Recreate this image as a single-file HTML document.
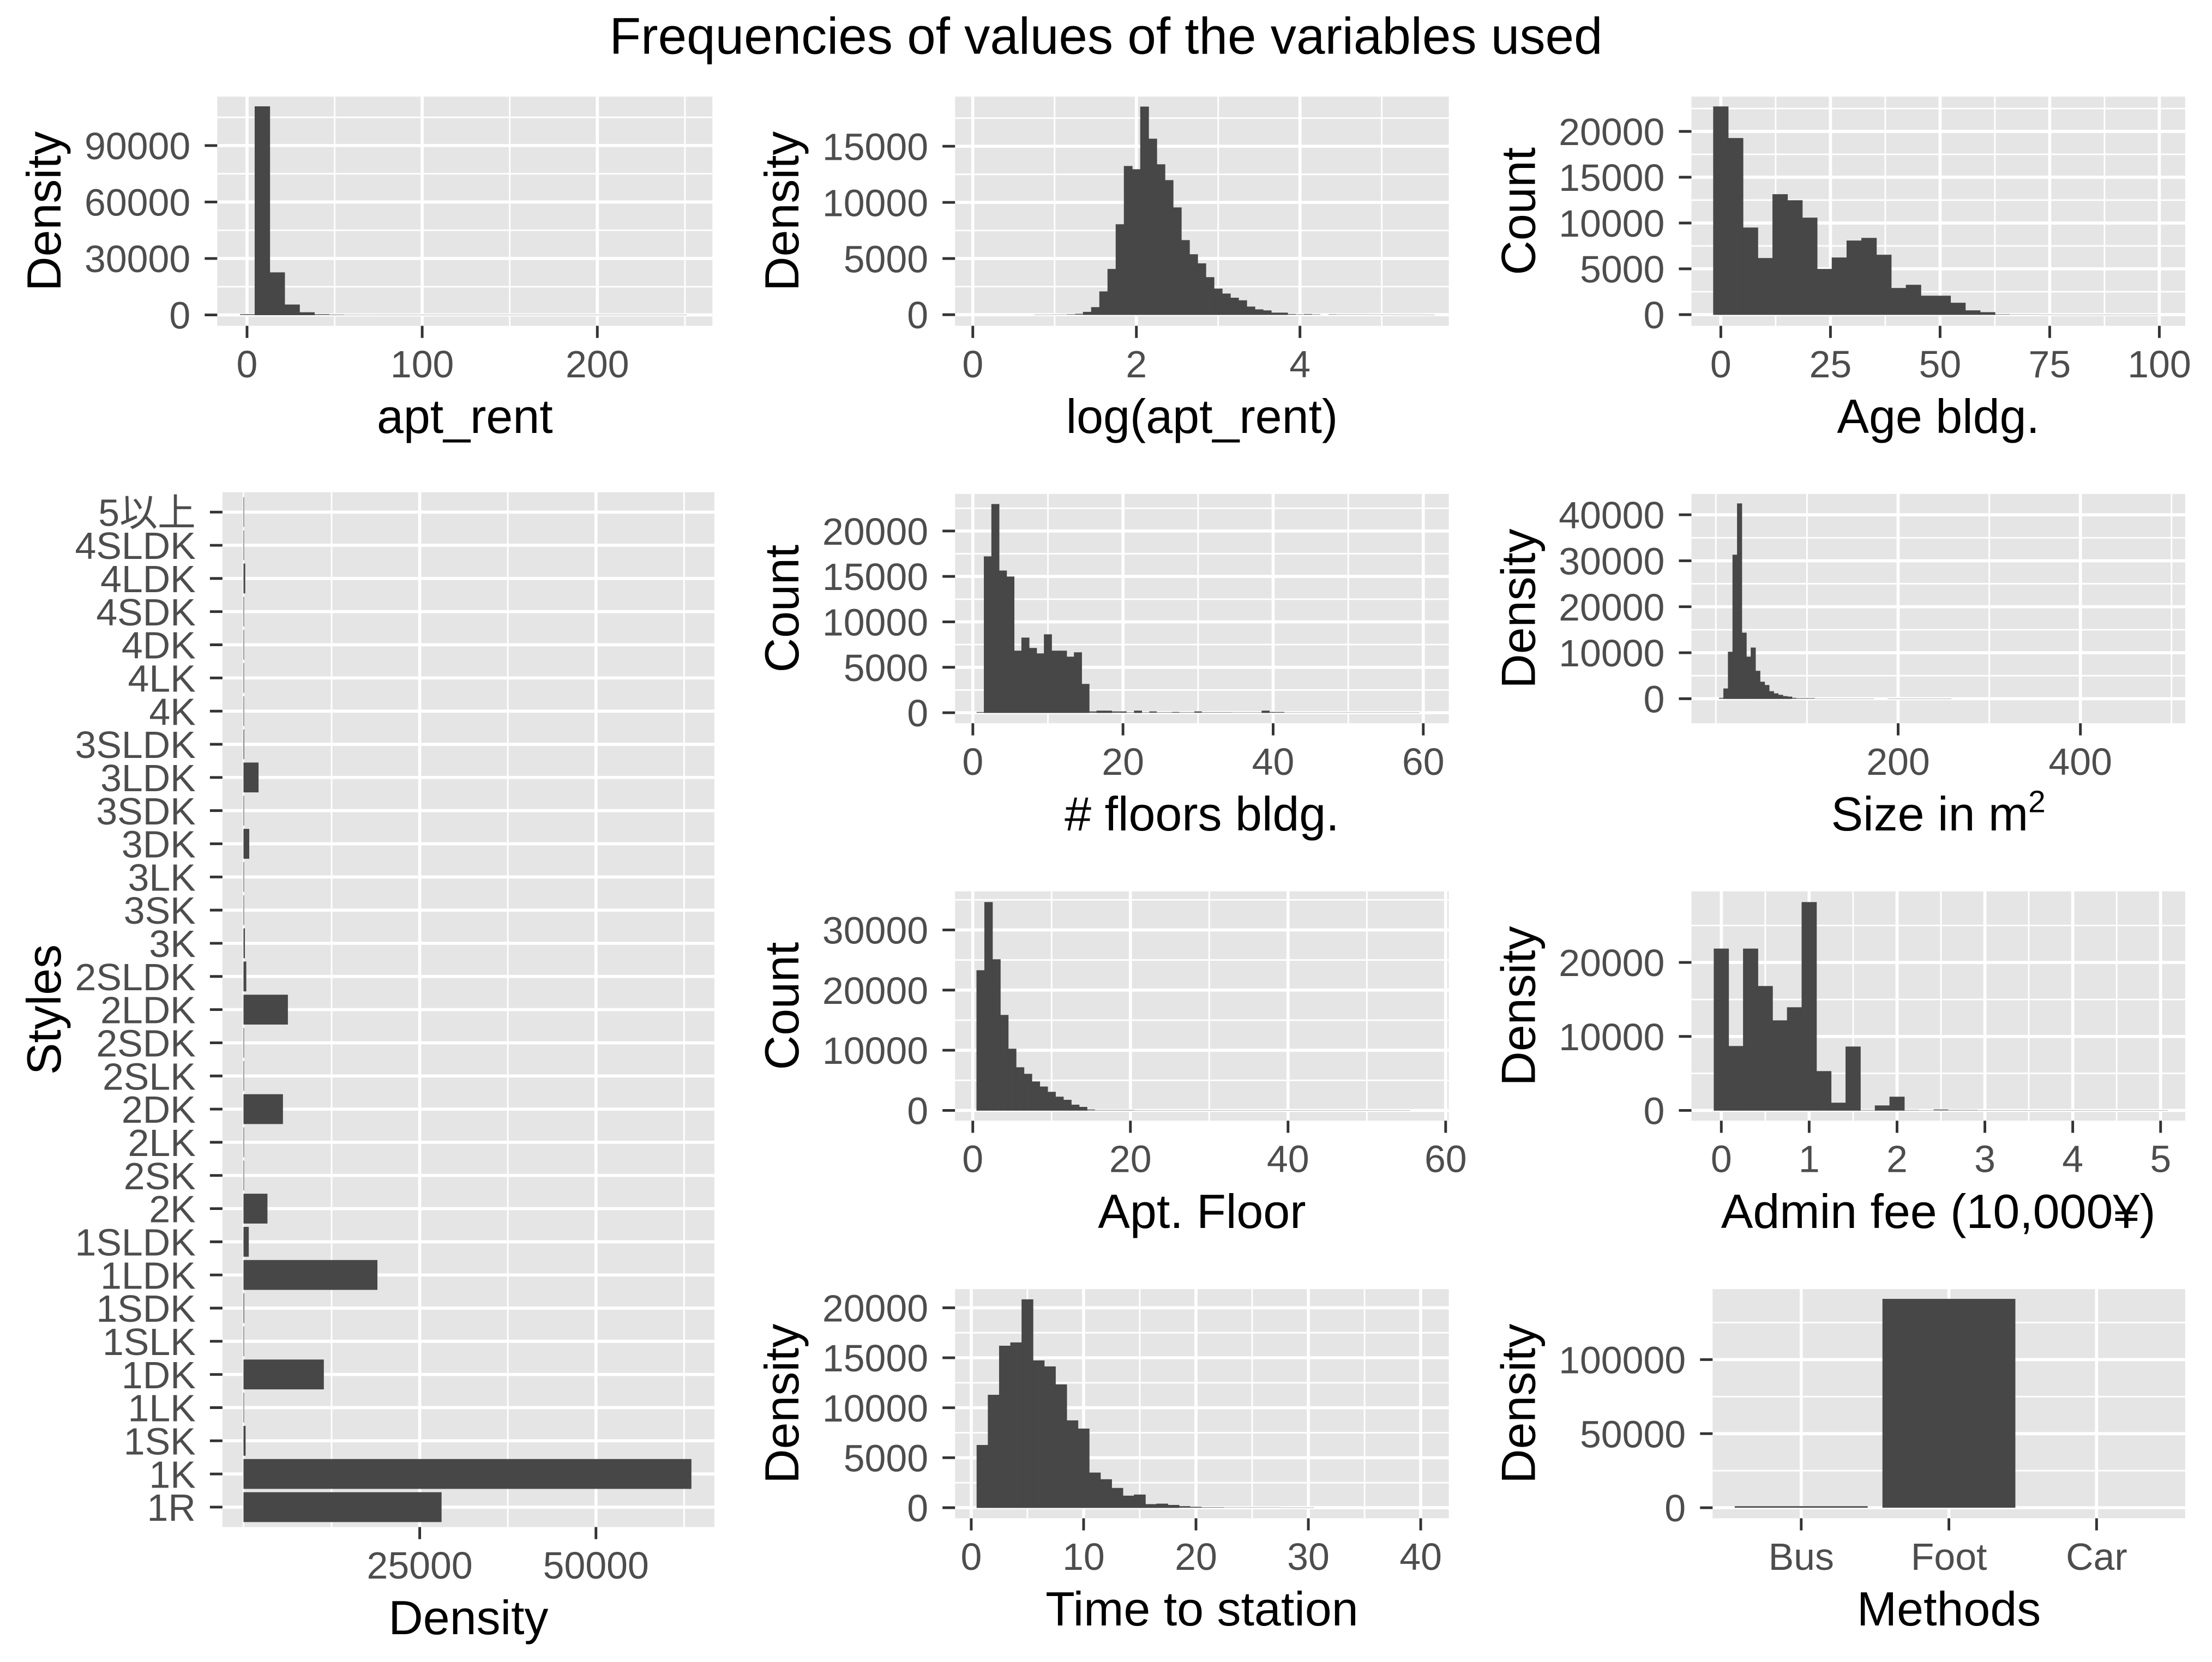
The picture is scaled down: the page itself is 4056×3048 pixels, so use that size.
<!DOCTYPE html>
<html><head><meta charset="utf-8"><title>Frequencies of values of the variables used</title>
<style>
html,body{margin:0;padding:0;background:#fff;}
svg{display:block;}
text{font-family:"Liberation Sans","Noto Sans CJK JP",sans-serif;}
</style></head>
<body>
<svg id="fig" xmlns="http://www.w3.org/2000/svg" width="4056" height="3048" viewBox="0 0 1568 1178.4" preserveAspectRatio="none">
<rect x="0" y="0" width="1568" height="1178.4" fill="#ffffff"/>
<text x="784" y="38" font-size="36.5" text-anchor="middle" fill="#000">Frequencies of values of the variables used</text>
</svg>
<script>
// ---- data ----
const rentStart = -4, rentWidth = 8.5;
const rentCounts = [400,110700,22500,5400,1300,400,200,120,80,50,40,30,20,15,10,10,8,6,5,5,4,3,3,2,2,2,1,1,1,1];
const logStart = 0.75, logWidth = 0.1;
const logCounts = [10,10,15,20,40,80,230,650,2050,4050,8030,13220,12930,18510,15650,13370,11960,9530,6620,5360,4550,3320,2300,1860,1490,1260,700,450,360,160,160,60,30,60,30,0,30,20,20,20,20,15,15,15,10,10,10,10,5];
const ageStart = -1.69, ageWidth = 3.38;
const ageCounts = [22700,19250,9480,6150,13120,12460,10560,4960,6210,8060,8350,6510,2880,3230,2040,2040,1270,440,240,40,20,20,10,5,5,5,5,5,5,5];
const floorsStart = 0.5, floorsWidth = 1;
const floorsCounts = [80,17180,22940,15620,14960,6800,8240,7100,6500,8600,6800,6800,6140,6620,3140,140,200,200,140,140,40,200,40,140,40,40,80,40,40,140,40,40,40,40,30,30,30,30,200,80,80,20,20,20,20,20,20,20,20,20,20,20,20,20,20,20,20,20,20];
const sizeStart = 3.5, sizeWidth = 5;
const sizeCounts = [200,2170,10160,31270,42420,14310,9090,11070,6010,3640,2920,1580,1110,790,510,400,200,120,120,120,120,40,40,40,40,40,40,40,40,40,40,40,40,40,0,0,0,40,20,20,20,10,10,10,10,10,10,5,5,5,5];
const aptFloorStart = 0.5, aptFloorWidth = 1;
const aptFloorCounts = [23260,34590,25080,15830,10210,7130,6040,4770,3930,3050,2240,1720,910,540,150,60,60,60,60,60,30,30,30,30,30,30,30,30,30,30,10,10,10,10,10,10,10,10,10,10,10,10,10,10,10,10,10,10,5,5,5,5,5,5,5];
const adminStart = -0.08333, adminWidth = 0.16667;
const adminCounts = [21840,8670,21840,16780,12140,13910,28130,5280,1010,8600,50,640,1820,50,10,120,50,50,10,10,10,10,5,5,5,5,5,5,5,5,5];
const timeStart = 0.5, timeWidth = 1;
const timeCounts = [6250,11270,16180,16510,20820,14710,14110,12310,8710,7890,3490,2820,1950,1180,1290,330,380,250,150,90,40,40,20,20,20,20,20,10,10,10];
const styleCategories = ["1R","1K","1SK","1LK","1DK","1SLK","1SDK","1LDK","1SLDK","2K","2SK","2LK","2DK","2SLK","2SDK","2LDK","2SLDK","3K","3SK","3LK","3DK","3SDK","3LDK","3SLDK","4K","4LK","4DK","4SDK","4LDK","4SLDK","5以上"];
const styleValues = [28100,63540,300,30,11400,20,100,19000,750,3400,20,20,5600,10,80,6300,400,200,10,10,820,20,2140,100,30,20,50,10,250,50,80];
const methodCategories = ["Bus","Foot","Car"];
const methodValues = [1000,141000,0];

// ---- helpers ----
const NS = "http://www.w3.org/2000/svg";
const svg = document.getElementById("fig");
const BG = "#e5e5e5", BAR = "#474747";
function make(tag, parent){ const e = document.createElementNS(NS, tag); parent.appendChild(e); return e; }
function attr(e, o){ for (const k in o) e.setAttribute(k, o[k]); return e; }
function scale(d0, d1, r0, r1){ return v => r0 + (v - d0) * (r1 - r0) / (d1 - d0); }

function panel(p){
  const g = make("g", svg);
  
  
  const sx = scale(p.xlim[0], p.xlim[1], p.x0, p.x1);
  const sy = scale(p.ylim[0], p.ylim[1], p.y1, p.y0);
  p.sx = sx; p.sy = sy; p.g = g;
  const bg = make("rect", g);
  attr(bg, {x:p.x0, y:p.y0, width:p.x1-p.x0, height:p.y1-p.y0, fill:BG});
  
  
  (p.xMinor||[]).forEach(v => {
    const l = make("line", g);
    attr(l, {x1:sx(v), x2:sx(v), y1:p.y0, y2:p.y1, stroke:"#fff", "stroke-width":1.1});
    
    
  });
  (p.yMinor||[]).forEach(v => {
    const l = make("line", g);
    attr(l, {x1:p.x0, x2:p.x1, y1:sy(v), y2:sy(v), stroke:"#fff", "stroke-width":1.1});
    
    
  });
  p.xMajor.forEach(v => {
    const l = make("line", g);
    attr(l, {x1:sx(v), x2:sx(v), y1:p.y0, y2:p.y1, stroke:"#fff", "stroke-width":2.2});
    
    
  });
  p.yMajor.forEach(v => {
    const l = make("line", g);
    attr(l, {x1:p.x0, x2:p.x1, y1:sy(v), y2:sy(v), stroke:"#fff", "stroke-width":2.2});
    
    
  });
  return p;
}

function axes(p){
  const g = p.g, sx = p.sx, sy = p.sy;
  p.xMajor.forEach((v, i) => {
    const t = make("line", g);
    attr(t, {x1:sx(v), x2:sx(v), y1:p.y1, y2:p.y1+8.6, stroke:"#333", "stroke-width":1.9});
    
    
    const lb = make("text", g);
    attr(lb, {x:sx(v), y:p.y1+36.5, "font-size":27, fill:"#4d4d4d", "text-anchor":"middle"});
    lb.textContent = p.xLabels[i];
    
    
  });
  p.yMajor.forEach((v, i) => {
    const t = make("line", g);
    attr(t, {x1:p.x0-8.9, x2:p.x0, y1:sy(v), y2:sy(v), stroke:"#333", "stroke-width":1.9});
    
    
    const lb = make("text", g);
    attr(lb, {x:p.x0-19, y:sy(v)+(p.yFont||27)*0.36, "font-size":p.yFont||27, fill:"#4d4d4d", "text-anchor":"end"});
    lb.textContent = p.yLabels[i];
    
    
  });
  const xt = make("text", g);
  attr(xt, {x:(p.x0+p.x1)/2, y:p.y1+76, "font-size":34, fill:"#000", "text-anchor":"middle"});
  if (p.xTitleSup) {
    xt.textContent = p.xTitle;
    const sp = make("tspan", xt);
    attr(sp, {"font-size":22, dy:-13});
    sp.textContent = p.xTitleSup;
  } else {
    xt.textContent = p.xTitle;
  }
  
  
  const yc = (p.y0+p.y1)/2;
  const yt = make("text", g);
  attr(yt, {x:p.yTitleX, y:yc, "font-size":34, fill:"#000", "text-anchor":"middle", transform:`rotate(-90 ${p.yTitleX} ${yc})`});
  yt.textContent = p.yTitle;
  
  
}

function hist(p, start, width, counts){
  const sx = p.sx, sy = p.sy;
  counts.forEach((c, i) => {
    if (c <= 0) return;
    const a = start + i*width, b = a + width;
    const h = sy(0)-sy(c);
    const r = make("rect", p.g);
    attr(r, {x:sx(a), y:sy(c), width:Math.max(sx(b)-sx(a),0.1), height:Math.max(h,0.15), fill:BAR});
    if (h > 1.2) { r.setAttribute('stroke', BAR); r.setAttribute('stroke-width', 0.35); }
    
    
  });
}

function range(a, b, s){ const o=[]; for(let v=a; v<=b+1e-9; v+=s) o.push(+v.toFixed(6)); return o; }

// ---- row 1 ----
const A = panel({name:"apt-rent", x0:154, x1:505, y0:68.5, y1:231, xlim:[-17,265.7], ylim:[-5770,116000],
  xMajor:[0,100,200], xMinor:[50,150,250], yMajor:[0,30000,60000,90000], yMinor:[15000,45000,75000,105000],
  xLabels:["0","100","200"], yLabels:["0","30000","60000","90000"], xTitle:"apt_rent", yTitle:"Density", yTitleX:43});
hist(A, rentStart, rentWidth, rentCounts); axes(A);

const B = panel({name:"log-apt-rent", x0:677, x1:1027, y0:68.5, y1:231, xlim:[-0.217,5.82], ylim:[-990,19420],
  xMajor:[0,2,4], xMinor:[1,3,5], yMajor:[0,5000,10000,15000], yMinor:[2500,7500,12500,17500],
  xLabels:["0","2","4"], yLabels:["0","5000","10000","15000"], xTitle:"log(apt_rent)", yTitle:"Density", yTitleX:566});
hist(B, logStart, logWidth, logCounts); axes(B);

const C = panel({name:"age-bldg", x0:1199, x1:1549, y0:68.5, y1:231, xlim:[-6.7,105.9], ylim:[-1220,23800],
  xMajor:[0,25,50,75,100], xMinor:[12.5,37.5,62.5,87.5], yMajor:[0,5000,10000,15000,20000], yMinor:[2500,7500,12500,17500,22500],
  xLabels:["0","25","50","75","100"], yLabels:["0","5000","10000","15000","20000"], xTitle:"Age bldg.", yTitle:"Count", yTitleX:1088});
hist(C, ageStart, ageWidth, ageCounts); axes(C);

// ---- styles ----
const S = panel({name:"styles", x0:157.7, x1:506.4, y0:349, y1:1082.7, xlim:[-2980,66800], ylim:[0.4,31.6],
  xMajor:[25000,50000], xMinor:[0,12500,37500,62500], yMajor:range(1,31,1), yMinor:[],
  xLabels:["25000","50000"], yLabels:styleCategories, yFont:27, xTitle:"Density", yTitle:"Styles", yTitleX:43});
styleValues.forEach((v, i) => {
  const r = make("rect", S.g);
  attr(r, {x:S.sx(0), y:S.sy(i+1+0.45), width:Math.max(S.sx(v)-S.sx(0),0.4), height:S.sy(i+1-0.45)-S.sy(i+1+0.45), fill:BAR});
  
  
});
axes(S);

// ---- row 2 ----
const D = panel({name:"floors-bldg", x0:677, x1:1027, y0:350.2, y1:512.8, xlim:[-2.37,63.4], ylim:[-1160,24080],
  xMajor:[0,20,40,60], xMinor:[10,30,50], yMajor:[0,5000,10000,15000,20000], yMinor:[2500,7500,12500,17500,22500],
  xLabels:["0","20","40","60"], yLabels:["0","5000","10000","15000","20000"], xTitle:"# floors bldg.", yTitle:"Count", yTitleX:566});
hist(D, floorsStart, floorsWidth, floorsCounts); axes(D);

const E = panel({name:"size-m2", x0:1199, x1:1549, y0:350.2, y1:512.8, xlim:[-26.8,515], ylim:[-5340,44540],
  xMajor:[200,400], xMinor:[0,100,300,500], yMajor:[0,10000,20000,30000,40000], yMinor:[5000,15000,25000,35000],
  xLabels:["200","400"], yLabels:["0","10000","20000","30000","40000"], xTitle:"Size in m", xTitleSup:"2", yTitle:"Density", yTitleX:1088});
hist(E, sizeStart, sizeWidth, sizeCounts); axes(E);

// ---- row 3 ----
const F = panel({name:"apt-floor", x0:677, x1:1027, y0:632, y1:794.6, xlim:[-2.25,60.4], ylim:[-1710,36410],
  xMajor:[0,20,40,60], xMinor:[10,30,50], yMajor:[0,10000,20000,30000], yMinor:[5000,15000,25000,35000],
  xLabels:["0","20","40","60"], yLabels:["0","10000","20000","30000"], xTitle:"Apt. Floor", yTitle:"Count", yTitleX:566});
hist(F, aptFloorStart, aptFloorWidth, aptFloorCounts); axes(F);

const G = panel({name:"admin-fee", x0:1199, x1:1549, y0:632, y1:794.6, xlim:[-0.34,5.28], ylim:[-1390,29610],
  xMajor:[0,1,2,3,4,5], xMinor:[0.5,1.5,2.5,3.5,4.5], yMajor:[0,10000,20000], yMinor:[5000,15000,25000],
  xLabels:["0","1","2","3","4","5"], yLabels:["0","10000","20000"], xTitle:"Admin fee (10,000¥)", yTitle:"Density", yTitleX:1088});
hist(G, adminStart, adminWidth, adminCounts); axes(G);

// ---- row 4 ----
const H = panel({name:"time-to-station", x0:677, x1:1027, y0:914, y1:1076.5, xlim:[-1.44,42.5], ylim:[-1060,21870],
  xMajor:[0,10,20,30,40], xMinor:[5,15,25,35], yMajor:[0,5000,10000,15000,20000], yMinor:[2500,7500,12500,17500],
  xLabels:["0","10","20","30","40"], yLabels:["0","5000","10000","15000","20000"], xTitle:"Time to station", yTitle:"Density", yTitleX:566});
hist(H, timeStart, timeWidth, timeCounts); axes(H);

const I = panel({name:"methods", x0:1214, x1:1549, y0:914, y1:1076.5, xlim:[0.4,3.6], ylim:[-7140,147600],
  xMajor:[1,2,3], xMinor:[], yMajor:[0,50000,100000], yMinor:[25000,75000,125000],
  xLabels:methodCategories, yLabels:["0","50000","100000"], xTitle:"Methods", yTitle:"Density", yTitleX:1088});
methodValues.forEach((v, i) => {
  if (v <= 0) return;
  const r = make("rect", I.g);
  attr(r, {x:I.sx(i+1-0.45), y:I.sy(v), width:I.sx(i+1+0.45)-I.sx(i+1-0.45), height:Math.max(I.sy(0)-I.sy(v),0.3), fill:BAR});
  
  
});
axes(I);
</script>
</body></html>
